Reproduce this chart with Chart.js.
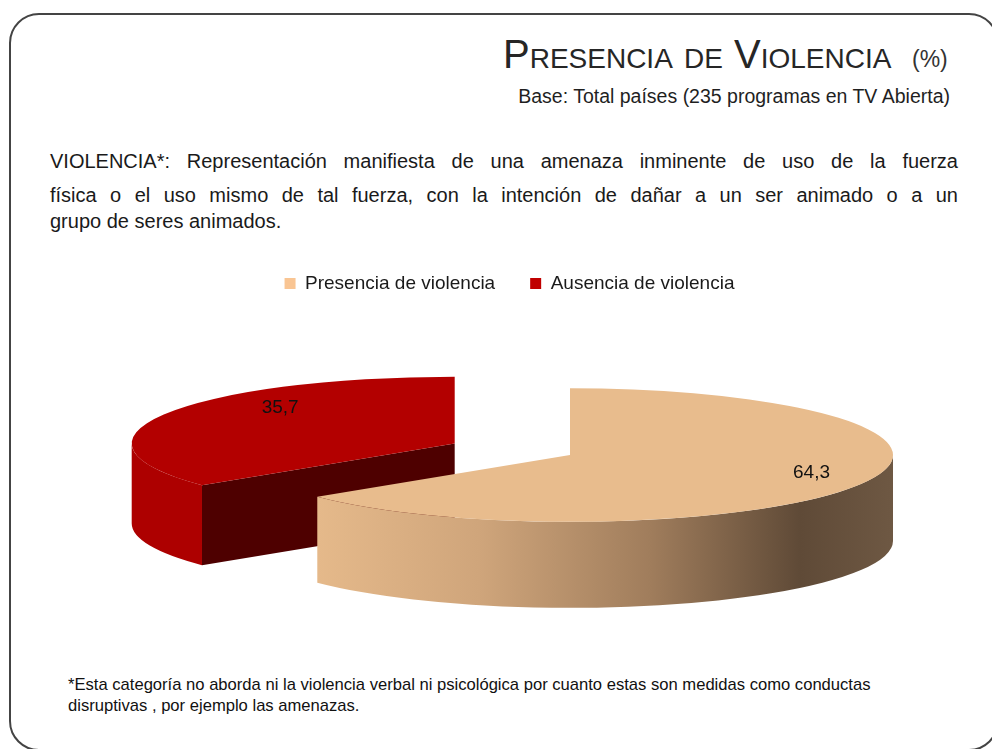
<!DOCTYPE html>
<html>
<head>
<meta charset="utf-8">
<script src="https://cdn.jsdelivr.net/npm/chart.js@4/dist/chart.umd.min.js"></script>
<style>
html,body{margin:0;padding:0;background:#fff;width:992px;height:749px;overflow:hidden;font-family:"Liberation Sans",Arial,sans-serif;color:#1a1a1a;}
#frame{position:absolute;left:9px;top:13px;width:990px;height:738px;border:2px solid #444;border-radius:30px;box-sizing:border-box;}
.t{position:absolute;white-space:nowrap;}
#title{left:503px;top:34px;font-size:40px;line-height:40px;font-variant:small-caps;color:#262626;}
#pct{left:912px;top:48px;font-size:23px;line-height:23px;color:#333;}
#base{right:42px;top:87px;font-size:19.5px;line-height:19px;color:#1f1f1f;}
.para{position:absolute;left:50px;width:908px;font-size:20px;line-height:20px;white-space:nowrap;}
.just{text-align:justify;text-align-last:justify;}
#note1,#note2{position:absolute;left:68px;font-size:16.6px;line-height:17px;white-space:nowrap;color:#111;}
#chartBox{position:absolute;left:0;top:239px;width:992px;height:420px;}
</style>
</head>
<body>
<div id="frame"></div>
<div class="t" id="title">Presencia de Violencia</div>
<div class="t" id="pct">(%)</div>
<div class="t" id="base">Base: Total países (235 programas en TV Abierta)</div>
<div class="para just" style="top:151px">VIOLENCIA*: Representación manifiesta de una amenaza inminente de uso de la fuerza</div>
<div class="para just" style="top:185px">física o el uso mismo de tal fuerza, con la intención de dañar a un ser animado o a un</div>
<div class="para" style="top:211px">grupo de seres animados.</div>
<div id="note1" style="top:676px">*Esta categoría no aborda ni la violencia verbal ni psicológica por cuanto estas son medidas como conductas</div>
<div id="note2" style="top:697px">disruptivas , por ejemplo las amenazas.</div>
<div id="chartBox"><canvas id="c" width="992" height="420"></canvas></div>
<script>
// ---- data ----
const categories = ['Presencia de violencia', 'Ausencia de violencia'];
const values = [64.3, 35.7];

// ---- styles ----
const topColors = ['#e8bc8d', '#b30000'];
const legendColors = ['#f9c593', '#c00000'];
const cutColors = ['#5f4a37', '#4e0000'];

const CFG = {
  cx: 570, cy: 216, k: 0.207,
  depth: [86, 80],
  explode: [0, 128],
  wallStops: [
    [[0.098, '#e6ba8b'], [0.36, '#cfa57b'], [0.624, '#a07d5c'], [0.856, '#5f4a37'], [1, '#6e5843']],
    [[0, '#ad0000']]
  ],
  labelFont: "19px 'Liberation Sans', Arial, sans-serif",
  labelColor: '#111',
  labelRadius: [0.83, 0.6],
  labelDy: [-6, -18]
};

function sliceGeom(a, i) {
  const o = CFG;
  const t = o.explode[i] || 0;
  const h = (a.startAngle + a.endAngle) / 2;
  const R = a.outerRadius;
  return {t: t, X: o.cx + Math.cos(h) * t, Y: o.cy + Math.sin(h) * t * o.k, R: R, r: R * o.k,
          s: a.startAngle, e: a.endAngle, h: h};
}

function wallFill(ctx, i, g) {
  const stops = CFG.wallStops[i];
  if (stops.length === 1) return stops[0][1];
  const grd = ctx.createLinearGradient(g.X - g.R, 0, g.X + g.R, 0);
  stops.forEach(([p, c]) => grd.addColorStop(p, c));
  return grd;
}

function drawSides(ctx, i, g) {
  if (!isFinite(g.R)) return;
  const D = CFG.depth[i];
  ctx.save();
  const face = (ang) => {
    const px = g.X + Math.cos(ang) * g.R, py = g.Y + Math.sin(ang) * g.r;
    ctx.beginPath();
    ctx.moveTo(g.X, g.Y); ctx.lineTo(px, py); ctx.lineTo(px, py + D); ctx.lineTo(g.X, g.Y + D);
    ctx.closePath();
    ctx.fillStyle = cutColors[i];
    ctx.fill();
  };
  if (Math.cos(g.s) < -1e-6) face(g.s);
  if (Math.cos(g.e) > 1e-6) face(g.e);
  for (const base of [-2 * Math.PI, 0, 2 * Math.PI]) {
    const a = Math.max(g.s, base), b = Math.min(g.e, base + Math.PI);
    if (b > a) {
      ctx.beginPath();
      ctx.ellipse(g.X, g.Y, g.R, g.r, 0, a, b, false);
      ctx.ellipse(g.X, g.Y + D, g.R, g.r, 0, b, a, true);
      ctx.closePath();
      ctx.fillStyle = wallFill(ctx, i, g);
      ctx.fill();
    }
  }
  ctx.restore();
}

const pie3d = {
  id: 'pie3d',
  beforeDatasetsDraw(chart) {
    const ctx = chart.ctx;
    const meta = chart.getDatasetMeta(0);
    const list = meta.data.map((a, i) => ({a: a, i: i, g: sliceGeom(a, i)})).sort((p, q) => p.g.Y - q.g.Y);
    // side walls (back to front)
    list.forEach(({i, g}) => drawSides(ctx, i, g));
    // top faces: the library's own arc elements, tilted and exploded
    list.forEach(({a, g}) => {
      if (!isFinite(g.R)) return;
      ctx.save();
      ctx.translate(CFG.cx, CFG.cy);
      ctx.scale(1, CFG.k);
      ctx.translate(Math.cos(g.h) * g.t, Math.sin(g.h) * g.t);
      ctx.translate(-a.x, -a.y);
      a.draw(ctx);
      ctx.restore();
    });
    return false;
  },
  afterDraw(chart) {
    const ctx = chart.ctx;
    const meta = chart.getDatasetMeta(0);
    ctx.save();
    ctx.font = CFG.labelFont;
    ctx.fillStyle = CFG.labelColor;
    ctx.textAlign = 'center';
    ctx.textBaseline = 'middle';
    meta.data.forEach((a, i) => {
      const g = sliceGeom(a, i);
      if (!isFinite(g.R)) return;
      const f = CFG.labelRadius[i];
      const x = g.X + Math.cos(g.h) * g.R * f;
      const y = g.Y + Math.sin(g.h) * g.r * f + CFG.labelDy[i];
      ctx.fillText(values[i].toFixed(1).replace('.', ','), x, y);
    });
    ctx.restore();
  }
};

new Chart(document.getElementById('c'), {
  type: 'pie',
  data: {
    labels: categories,
    datasets: [{
      data: values,
      backgroundColor: topColors,
      borderWidth: 0,
      offset: 0,
      hoverOffset: 0,
      clip: false
    }]
  },
  options: {
    responsive: false,
    animation: false,
    events: [],
    radius: 323,
    cutout: '0%',
    layout: {padding: {left: 27, right: 0, top: 0, bottom: 0}},
    plugins: {
      tooltip: {enabled: false},
      legend: {
        position: 'top',
        labels: {
          font: {family: "'Liberation Sans', Arial, sans-serif", size: 19},
          color: '#1a1a1a',
          boxWidth: 11,
          boxHeight: 11,
          padding: 35,
          generateLabels: () => categories.map((c, i) => ({
            text: c, fillStyle: legendColors[i], strokeStyle: legendColors[i], lineWidth: 0,
            hidden: false, index: i, fontColor: '#1a1a1a'
          }))
        }
      }
    }
  },
  plugins: [pie3d]
});
</script>
</body>
</html>
